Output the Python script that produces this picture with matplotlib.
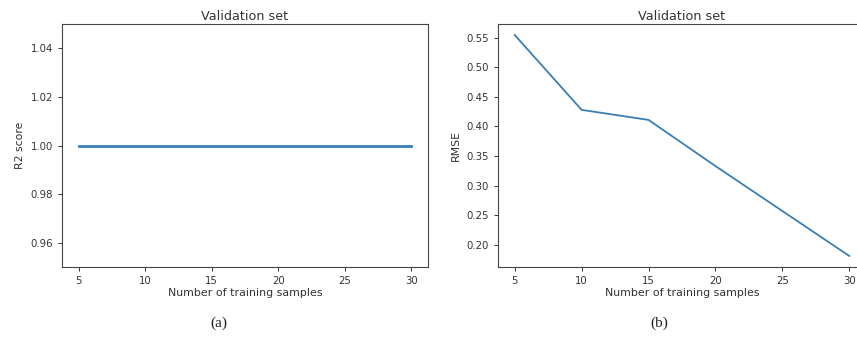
import matplotlib
matplotlib.use("Agg")
import matplotlib.pyplot as plt

samples = [5, 10, 15, 20, 25, 30]
r2_scores = [1.0, 1.0, 1.0, 1.0, 1.0, 1.0]
rmse = [0.5545, 0.428, 0.411, 0.333, 0.257, 0.181]
x_ticks = [5, 10, 15, 20, 25, 30]
r2_ticks = [0.96, 0.98, 1.00, 1.02, 1.04]
rmse_ticks = [0.20, 0.25, 0.30, 0.35, 0.40, 0.45, 0.50, 0.55]

W, H = 857, 350
fig = plt.figure(figsize=(W / 100, H / 100), dpi=100)
plt.rcParams['font.family'] = ['DejaVu Sans']

fs = 7.3
tc = '#333333'

ax1 = fig.add_axes([62 / W, (H - 267) / H, 366 / W, 243 / H])
ax2 = fig.add_axes([498 / W, (H - 267) / H, 368 / W, 243 / H])

ax1.plot(samples, r2_scores, color='#3a7fb4', lw=2.0)
ax1.set_ylim(0.95, 1.05)
ax1.set_yticks(r2_ticks)
ax1.set_yticklabels([f"{v:.2f}" for v in r2_ticks])
ax1.set_ylabel("R2 score", fontsize=7.8, color=tc)

ax2.plot(samples, rmse, color='#3a7fb4', lw=1.3)
ax2.set_yticks(rmse_ticks)
ax2.set_yticklabels([f"{v:.2f}" for v in rmse_ticks])
ax2.set_ylabel("RMSE", fontsize=7.8, color=tc)

for ax in (ax1, ax2):
    ax.set_xticks(x_ticks)
    ax.set_title("Validation set", fontsize=9.2, color=tc, pad=3)
    ax.set_xlabel("Number of training samples", fontsize=7.9, color=tc, labelpad=1.5)
    ax.tick_params(labelsize=fs, colors=tc, length=3, width=0.7)
    for s in ax.spines.values():
        s.set_color('#444444')
        s.set_linewidth(0.8)

fig.text(219 / W, 1 - 323 / H, "(a)", ha='center', va='center',
         fontsize=11, family='Liberation Serif', color='#222222')
fig.text(659 / W, 1 - 323 / H, "(b)", ha='center', va='center',
         fontsize=11, family='Liberation Serif', color='#222222')

fig.savefig("out.png", dpi=100)
